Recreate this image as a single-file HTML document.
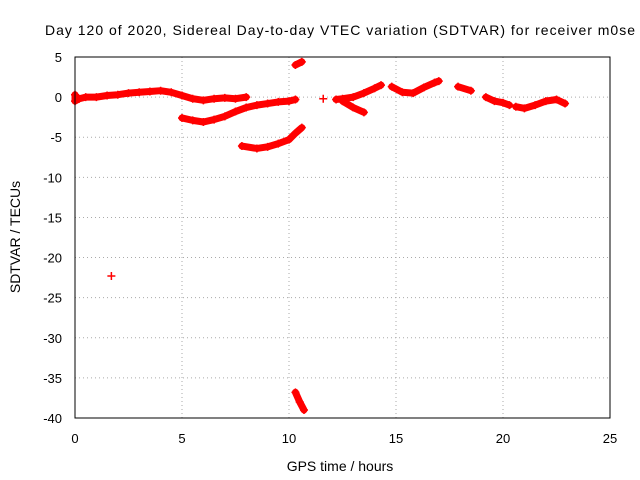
<!DOCTYPE html>
<html><head><meta charset="utf-8"><style>
body{margin:0;background:#fff}
svg{display:block;font-family:"Liberation Sans",sans-serif}
</style></head><body>
<svg id="chart" width="640" height="480">
<text x="340" y="35" text-anchor="middle" font-size="14" textLength="590" lengthAdjust="spacing">Day 120 of 2020, Sidereal Day-to-day VTEC variation (SDTVAR) for receiver m0se</text>
<text x="340" y="471" text-anchor="middle" font-size="14">GPS time / hours</text>
<text transform="translate(20,237) rotate(-90)" text-anchor="middle" font-size="14">SDTVAR / TECUs</text>
<g id="grid"></g><g id="ticks"></g><g id="marks"></g>
<rect x="75" y="57" width="535" height="361" fill="none" stroke="#000"/>
</svg>
<script>
const xTicks=[0,5,10,15,20,25];
const yTicks=[5,0,-5,-10,-15,-20,-25,-30,-35,-40];
const seg1=[[0,0.3],[0,-0.5],[0.2,-0.2],[0.5,0],[1,0],[1.5,0.2],[2,0.3],[2.5,0.5],[3,0.6],[3.5,0.7],[4,0.8],[4.5,0.6],[5,0.2],[5.5,-0.2],[6,-0.4],[6.5,-0.2],[7,-0.1],[7.5,-0.2],[8,0]];
const seg2=[[5,-2.6],[5.5,-2.9],[6,-3.1],[6.5,-2.8],[7,-2.4],[7.5,-1.8],[8,-1.3],[8.5,-1.0],[9,-0.8],[9.5,-0.6],[10,-0.5],[10.3,-0.3]];
const seg3=[[7.8,-6.1],[8.5,-6.4],[9,-6.2],[9.5,-5.8],[10,-5.3],[10.3,-4.5],[10.6,-3.8]];
const seg4=[[10.3,4.0],[10.6,4.4]];
const seg5=[[10.3,-36.8],[10.5,-38],[10.7,-39]];
const seg6=[[1.7,-22.3]];
const seg7=[[11.6,-0.2]];
const seg8=[[12.2,-0.3],[12.5,-0.2],[13,0],[13.5,0.5],[14,1.1],[14.3,1.5]];
const seg9=[[12.5,-0.5],[13,-1.3],[13.5,-1.9]];
const seg10=[[14.8,1.3],[15.3,0.6],[15.8,0.5],[16.3,1.2],[16.8,1.8],[17,2.0]];
const seg11=[[17.9,1.3],[18.5,0.8]];
const seg12=[[19.2,0],[19.6,-0.5],[20,-0.7],[20.3,-1]];
const seg13=[[20.6,-1.2],[21,-1.4],[21.5,-1],[22,-0.5],[22.5,-0.3],[22.9,-0.8]];
const series=[seg1,seg2,seg3,seg4,seg5,seg6,seg7,seg8,seg9,seg10,seg11,seg12,seg13];
const NS="http://www.w3.org/2000/svg";
const X=v=>75+v*535/25, Y=v=>57+(5-v)*361/45;
const grid=document.getElementById('grid'),ticks=document.getElementById('ticks'),marks=document.getElementById('marks');
function mk(t,a,p){const e=document.createElementNS(NS,t);for(const k in a)e.setAttribute(k,a[k]);p.appendChild(e);return e;}
xTicks.forEach(t=>{
 if(t>0&&t<25){const g=mk('line',{x1:X(t),x2:X(t),y1:57,y2:418,stroke:'#aaa','stroke-dasharray':'1,3'},grid);
 
 }
 const l=mk('text',{x:X(t),y:443,'text-anchor':'middle','font-size':13},ticks);l.textContent=t;
 
 
});
yTicks.forEach(t=>{
 if(t<5&&t>-40){const g=mk('line',{x1:75,x2:610,y1:Y(t),y2:Y(t),stroke:'#aaa','stroke-dasharray':'1,3'},grid);
 
 }
 const l=mk('text',{x:62,y:Y(t)+5,'text-anchor':'end','font-size':13},ticks);l.textContent=t;
 
 
});
series.forEach(s=>{
 if(s.length>1){const pl=mk('polyline',{points:s.map(p=>X(p[0])+','+Y(p[1])).join(' '),fill:'none',stroke:'#f00','stroke-width':7,'stroke-linejoin':'round','stroke-linecap':'round'},marks);
 
 }
 s.forEach(p=>{const x=X(p[0]),y=Y(p[1]);
  const m=mk('path',{d:`M${x-4},${y}h8M${x},${y-4}v8`,stroke:'#f00','stroke-width':1.5},marks);
  
  });
});
</script>
</body></html>
